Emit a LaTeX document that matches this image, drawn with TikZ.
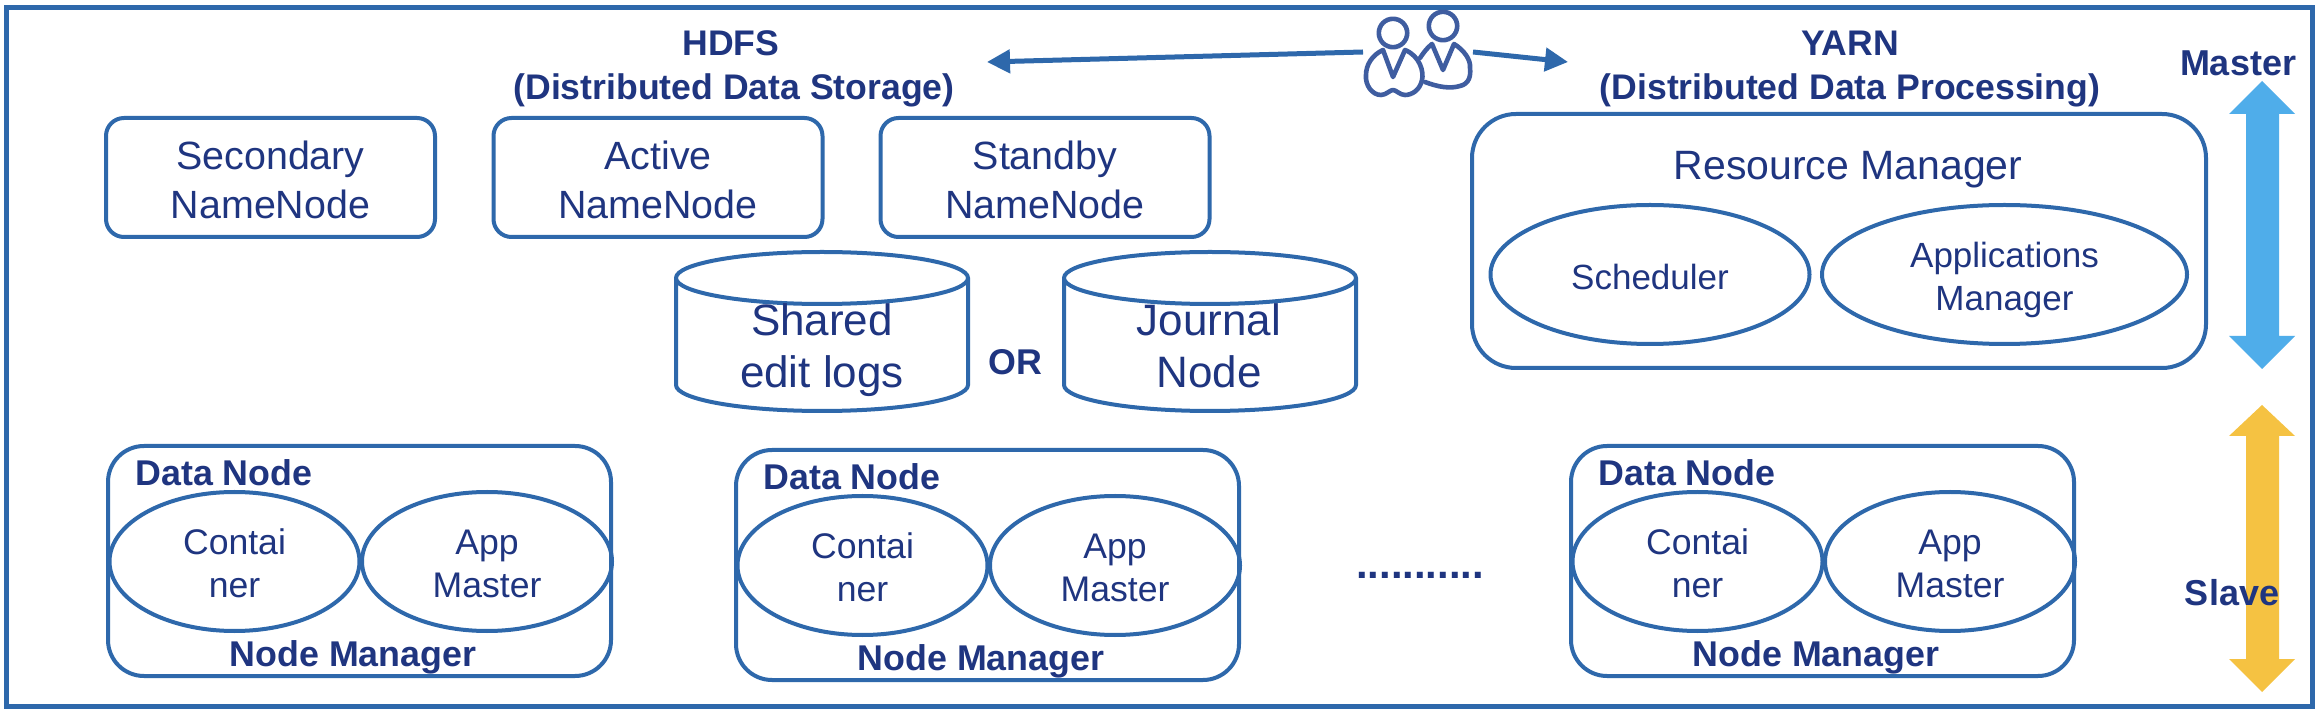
\documentclass[tikz,border=0pt]{standalone}
\usepackage{fontspec}
\setmainfont{Liberation Sans}
\usetikzlibrary{shapes.geometric,arrows.meta}
\definecolor{lineblue}{HTML}{2E68AB}
\definecolor{inkblue}{HTML}{1F3580}
\definecolor{iconblue}{HTML}{3F5DA0}
\definecolor{skyarrow}{HTML}{4FADEA}
\definecolor{goldarrow}{HTML}{F5C242}
\newcommand{\fs}[2]{\fontsize{#1}{#2}\selectfont}
\newcommand{\tp}[1]{\rule{0pt}{#1pt}}
\tikzset{
  x=0.5pt,y=-0.5pt,
  outline/.style={draw=lineblue,line width=2pt},
  namebox/.style={outline,rectangle,rounded corners=9pt,minimum width=164.5pt,minimum height=59.5pt,inner sep=0pt,align=center,text=inkblue,font=\fs{19.7}{24.5}},
  oval/.style={outline,ellipse,inner sep=0pt,align=center,text=inkblue},
  dnoval/.style={oval,minimum width=125pt,minimum height=69.5pt,font=\fs{17.8}{21.5}},
  dnbox/.style={outline,rectangle,rounded corners=18pt,minimum width=251.5pt,minimum height=115pt,inner sep=0pt},
  boldtext/.style={text=inkblue,font=\fs{17.9}{22}\bfseries,inner sep=0pt,align=center},
  titletext/.style={boldtext,font=\fs{17.8}{22}\bfseries},
  cyltext/.style={text=inkblue,font=\fs{22}{26},inner sep=0pt,align=center},
  people/.style={draw=iconblue,line width=2.3pt,line join=round,line cap=round},
  link/.style={draw=lineblue,line width=2.5pt,-{Triangle[length=11.5pt,width=11.5pt]}},
}
\begin{document}
\begin{tikzpicture}
\useasboundingbox (0,0) rectangle (2318,710);
\fill[white] (0,0) rectangle (2318,710);
\draw[draw=lineblue,line width=2.5pt] (6,8) rectangle (2312,706);

% HDFS
\node[titletext] (hdfs) at (734,69) {\mbox{HDFS\hspace{3pt}}\\(Distributed Data Storage)};
\node[namebox] (secondary) at (270.5,177.5) {\tp{16.5}Secondary\\NameNode};
\node[namebox] (active) at (658,177.5) {\tp{16.5}Active\\NameNode};
\node[namebox] (standby) at (1045,177.5) {\tp{16.5}Standby\\NameNode};

% Cylinders
\draw[outline] (676,278) arc[start angle=180,end angle=-180,x radius=146,y radius=26]
  -- (676,385) arc[start angle=180,end angle=0,x radius=146,y radius=26] -- (968,278);
\draw[outline] (1064,278) arc[start angle=180,end angle=-180,x radius=146,y radius=26]
  -- (1064,385) arc[start angle=180,end angle=0,x radius=146,y radius=26] -- (1356,278);
\node[cyltext] (shared) at (822,351) {\strut Shared\\\strut edit logs};
\node[cyltext] (journal) at (1209,351) {\strut Journal\\\strut Node};
\node[boldtext] (or) at (1015,362) {OR};

% YARN
\node[titletext] (yarn) at (1850,69) {YARN\\(Distributed Data Processing)};
\node[outline,rectangle,rounded corners=22pt,minimum width=367pt,minimum height=127pt,inner sep=0pt] (rm) at (1839,241) {};
\node[text=inkblue,font=\fs{20.5}{25},inner sep=0pt] (rmlabel) at (1848,170) {Resource Manager};
\node[oval,minimum width=159.5pt,minimum height=69.5pt,font=\fs{17.5}{21.5}] (scheduler) at (1650,274.5) {\tp{15.5}Scheduler};
\node[oval,minimum width=182.5pt,minimum height=69.5pt,font=\fs{17.5}{21.5}] (appman) at (2004.5,274.5) {\tp{17.8}Applications\\Manager};

% Data nodes
\foreach \n/\dx/\dy in {one/0/0,two/628/4,three/1463/0}{
  \begin{scope}[shift={(\dx,\dy)}]
    \node[dnbox] (box\n) at (359.5,561) {};
    \node[dnoval] (cont\n) at (234.5,561.5) {\tp{15}Contai\\ner};
    \node[dnoval] (app\n) at (487,561.5) {\tp{15}App\\Master};
    \node[boldtext] (dn\n) at (224,473) {Data Node};
    \node[boldtext] (nm\n) at (353,657) {Node Manager};
  \end{scope}
}
\node[boldtext,font=\fs{20.9}{22}\bfseries] (dots) at (1420,575) {...........};

% People icon
\coordinate (leftstart) at (1363,52);
\coordinate (lefttip) at (987,62);
\coordinate (rightstart) at (1473,52);
\coordinate (righttip) at (1568,62);
\draw[link] (leftstart) -- (lefttip);
\draw[link] (rightstart) -- (righttip);
\draw[people] (1393,33) circle[radius=14.2];
\draw[people] (1443,26) circle[radius=14.2];
\draw[people] (1383,50) -- (1393,77) -- (1405,50)
  .. controls (1420,56) and (1424,72) .. (1422,80)
  .. controls (1420,90) and (1412,95) .. (1405,95)
  .. controls (1400,95) and (1396,90) .. (1393,90)
  .. controls (1390,90) and (1386,95) .. (1381,95)
  .. controls (1372,95) and (1365,85) .. (1366,75)
  .. controls (1366,65) and (1372,55) .. (1383,50);
\draw[people] (1420,58) .. controls (1424,52) and (1427,48) .. (1432,44)
  -- (1443,70) -- (1454,44)
  .. controls (1464,50) and (1471,60) .. (1470,68)
  .. controls (1471,76) and (1469,84) .. (1460,86)
  .. controls (1450,89) and (1438,87) .. (1425,82);

% Level arrows
\fill[skyarrow] (2262,81) -- (2295,114) -- (2279,114) -- (2279,336) -- (2295,336) -- (2262,369)
  -- (2229,336) -- (2246,336) -- (2246,114) -- (2229,114) -- cycle;
\fill[goldarrow] (2262,405) -- (2295,436) -- (2279,436) -- (2279,659) -- (2295,659) -- (2262,692)
  -- (2229,659) -- (2246,659) -- (2246,436) -- (2229,436) -- cycle;
\node[boldtext,font=\fs{18}{22}\bfseries] (master) at (2238,63) {Master};
\node[boldtext,font=\fs{18}{22}\bfseries] (slave) at (2232,593) {Slave};
\end{tikzpicture}
\end{document}
